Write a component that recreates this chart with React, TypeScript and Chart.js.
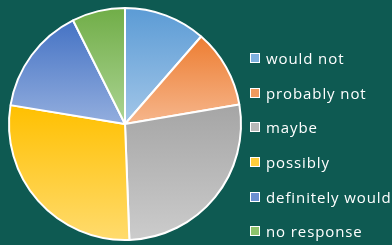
import React, { useEffect, useRef } from "react";
import { Chart, registerables } from "chart.js";

Chart.register(...registerables);

const labels = ["would not", "probably not", "maybe", "possibly", "definitely would", "no response"];
const values = [11.4, 10.9, 27.1, 28.2, 15.0, 7.4];
const topColors = ["#5b9bd5", "#ed7d31", "#a5a5a5", "#ffc000", "#4472c4", "#70ad47"];
const bottomColors = ["#a2c6e8", "#f6b68c", "#cccccc", "#ffdb6e", "#93aede", "#acd493"];
const swatchColors = ["#7eb0de", "#f19a5e", "#b8b8b8", "#ffcd3a", "#6a8fd0", "#8ec26b"];

const BG = "#0e5a52";

function sliceGradient(c: any) {
  const chart = c.chart;
  const area = chart.chartArea;
  const i = c.dataIndex;
  if (!area || i === undefined) return topColors[i || 0];
  const data = chart.data.datasets[0].data as number[];
  const total = data.reduce((a, b) => a + b, 0);
  let before = 0;
  for (let j = 0; j < i; j++) before += data[j];
  const a0 = -Math.PI / 2 + (before / total) * 2 * Math.PI;
  const a1 = a0 + (data[i] / total) * 2 * Math.PI;
  const cy = (area.top + area.bottom) / 2;
  const r = Math.min(area.width, area.height) / 2;
  let minY = cy;
  let maxY = cy;
  for (let k = 0; k <= 90; k++) {
    const a = a0 + ((a1 - a0) * k) / 90;
    const y = cy + r * Math.sin(a);
    if (y < minY) minY = y;
    if (y > maxY) maxY = y;
  }
  const g = chart.ctx.createLinearGradient(0, minY, 0, maxY);
  g.addColorStop(0, topColors[i]);
  g.addColorStop(1, bottomColors[i]);
  return g;
}

export default function App() {
  const ref = useRef<HTMLCanvasElement | null>(null);

  useEffect(() => {
    document.body.style.margin = "0";
    if (!ref.current) return;
    const chart = new Chart(ref.current, {
      type: "pie",
      data: {
        labels,
        datasets: [
          {
            data: values,
            backgroundColor: sliceGradient as any,
            borderColor: "#ffffff",
            borderWidth: 2,
            hoverOffset: 0,
          },
        ],
      },
      options: {
        responsive: false,
        animation: false,
        layout: { padding: { left: 8, right: 150, top: 7, bottom: 4 } },
        plugins: {
          legend: { display: false },
          tooltip: { enabled: false },
        },
      },
    });
    return () => chart.destroy();
  }, []);

  return (
    <div style={{ position: "relative", width: 392, height: 245, background: BG, overflow: "hidden" }}>
      <canvas ref={ref} width={392} height={245} style={{ position: "absolute", left: 0, top: 0 }} />
      <div style={{ position: "absolute", left: 250, top: 49, fontFamily: "'Open Sans', sans-serif", fontSize: 15, letterSpacing: 0.9, color: "#ffffff" }}>
        {labels.map((l, i) => (
          <div key={l} style={{ display: "flex", alignItems: "center", height: 18, marginBottom: 16.7, whiteSpace: "nowrap" }}>
            <span style={{ display: "inline-block", boxSizing: "border-box", width: 10, height: 10, border: "1px solid #ffffff", background: swatchColors[i], marginRight: 6 }} />
            <span>{l}</span>
          </div>
        ))}
      </div>
    </div>
  );
}
